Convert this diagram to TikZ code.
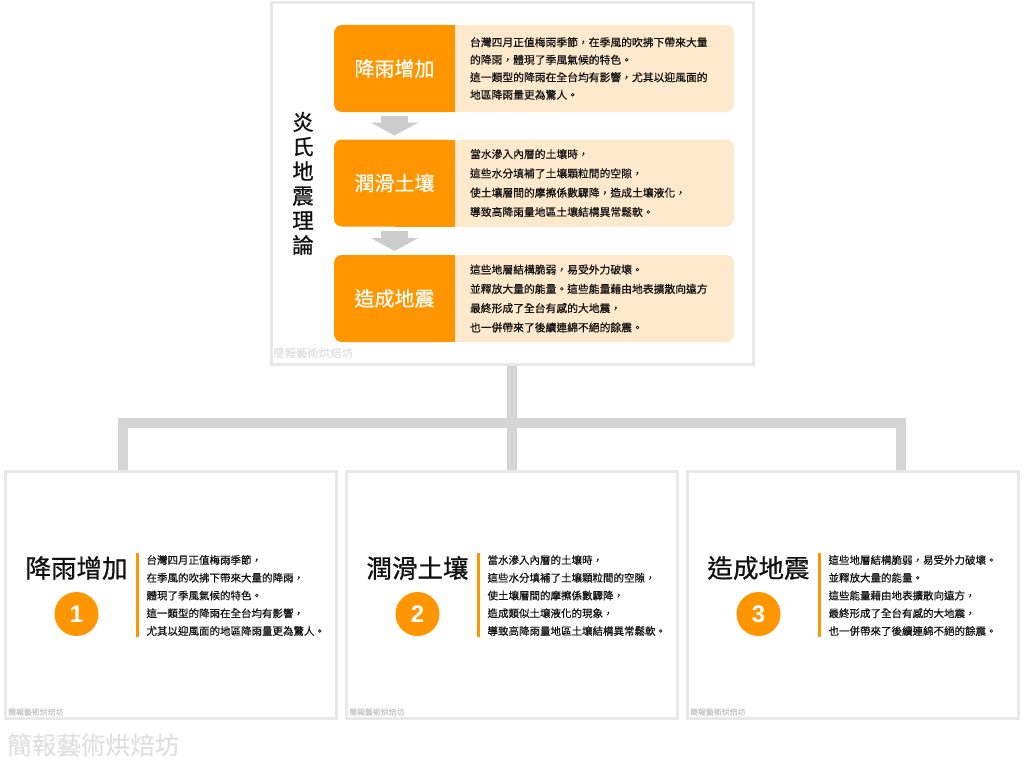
\documentclass[tikz,border=0pt]{standalone}
\usepackage{fontspec}
\setmainfont{Noto Sans CJK TC}[FakeBold=0.5]
\newfontfamily\heavy{Noto Sans CJK TC}[FakeBold=0.8]
\newfontfamily\numfont{Liberation Sans}
\usetikzlibrary{positioning,arrows.meta,backgrounds}
\definecolor{orng}{HTML}{FF9600}
\definecolor{beige}{HTML}{FFE9CD}
\definecolor{framegray}{HTML}{E8E8E8}
\definecolor{linkgray}{HTML}{D5D5D5}
\definecolor{flowgray}{HTML}{CCCCCC}
\definecolor{markgray}{HTML}{E0E0E0}
\definecolor{ink}{HTML}{111111}
\tikzset{
	panel/.style={draw=framegray, line width=3pt, minimum width=331pt, minimum height=247pt, inner sep=0pt},
	stage/.style={fill=orng, rounded corners=8pt, minimum width=121pt, minimum height=87pt, inner sep=0pt, outer sep=0pt, text=white, font=\fontsize{20}{24}\selectfont},
	detail/.style={fill=beige, rounded corners=8pt, minimum height=87pt, text width=249pt, inner xsep=15pt, inner ysep=0pt, outer sep=0pt, align=left, text=ink},
	head/.style={text=ink, font=\heavy\fontsize{25.5}{28}\selectfont},
	badge/.style={circle, fill=orng, minimum size=44pt, inner sep=0pt, text=white, font=\numfont\bfseries\fontsize{24}{24}\selectfont},
	note/.style={anchor=west, align=left, text=ink, font=\fontsize{10.5}{17.75}\selectfont},
	stamp/.style={anchor=west, text=markgray, inner sep=0pt},
	link/.style={draw=linkgray, line width=10pt},
	flow/.style={draw=flowgray, line width=27pt, -{Triangle[width=47pt,length=13pt]}}
}
\begin{document}
\begin{tikzpicture}[x=1pt, y=-1pt]
	\useasboundingbox (0,0) rectangle (1024,768);
	\node[panel, minimum width=482pt, minimum height=362pt] (theory) at (512,183.5) {};
	\node[text=ink, align=center, font=\heavy\fontsize{21.5}{24.6}\selectfont] (title) at (303,183.5) {炎\\氏\\地\\震\\理\\論};
	\foreach \i/\y/\gap/\name/\txt in {
		1/68.5/17.5/降雨增加/{台灣四月正值梅雨季節，在季風的吹拂下帶來大量\\的降雨，體現了季風氣候的特色。\\這一類型的降雨在全台均有影響，尤其以迎風面的\\地區降雨量更為驚人。},
		2/183/19.3/潤滑土壤/{當水滲入內層的土壤時，\\這些水分填補了土壤顆粒間的空隙，\\使土壤層間的摩擦係數驟降，造成土壤液化，\\導致高降雨量地區土壤結構異常鬆軟。},
		3/298.5/19.3/造成地震/{這些地層結構脆弱，易受外力破壞。\\並釋放大量的能量。這些能量藉由地表擴散向遠方\\最終形成了全台有感的大地震，\\也一併帶來了後續連綿不絕的餘震。}} {
		\node[stage] (s\i) at (394.5,\y) {\name};
		\node[detail, right=0pt of s\i, font=\fontsize{10.8}{\gap}\selectfont] (d\i) {\txt};
		\begin{scope}[on background layer]
			\fill[orng] (s\i.north) rectangle (s\i.south east);
			\fill[beige] (d\i.north west) rectangle (d\i.south);
		\end{scope}
	}
	\foreach \a/\b in {1/2,2/3} \draw[flow] ([yshift=-4pt]s\a.south) -- ([yshift=4pt]s\b.north);
	\node[stamp, font=\fontsize{11.4}{12}\selectfont] (wm0) at (273,353) {簡報藝術烘焙坊};
	% three detail panels
	\foreach \i/\name/\txt in {
		1/降雨增加/{台灣四月正值梅雨季節，\\在季風的吹拂下帶來大量的降雨，\\體現了季風氣候的特色。\\這一類型的降雨在全台均有影響，\\尤其以迎風面的地區降雨量更為驚人。},
		2/潤滑土壤/{當水滲入內層的土壤時，\\這些水分填補了土壤顆粒間的空隙，\\使土壤層間的摩擦係數驟降，\\造成類似土壤液化的現象，\\導致高降雨量地區土壤結構異常鬆軟。},
		3/造成地震/{這些地層結構脆弱，易受外力破壞。\\並釋放大量的能量。\\這些能量藉由地表擴散向遠方，\\最終形成了全台有感的大地震，\\也一併帶來了後續連綿不絕的餘震。}} {
		\pgfmathsetmacro\px{4+341*(\i-1)}
		\node[panel] (p\i) at (\px+167,595) {};
		\node[head] (h\i) at (\px+72.5,568) {\name};
		\node[badge] (n\i) at (\px+72.5,614) {\i};
		\fill[orng] (\px+131.5,553) rectangle (\px+134.5,637);
		\node[note] (t\i) at (\px+139,595.5) {\txt};
		\node[stamp, text=markgray!90!black, font=\fontsize{7.9}{9}\selectfont] (wm\i) at (\px+4,712) {簡報藝術烘焙坊};
	}
	\coordinate (j1) at (123,423);
	\coordinate (j3) at (901,423);
	\draw[link] (theory.south) -- (p2.north);
	\draw[link] (j1 |- p1.north) -- (j1) -- (j3) -- (j3 |- p3.north);
	\node[stamp, font=\fontsize{24.6}{26}\selectfont] (wmbig) at (7,745) {簡報藝術烘焙坊};
\end{tikzpicture}
\end{document}
